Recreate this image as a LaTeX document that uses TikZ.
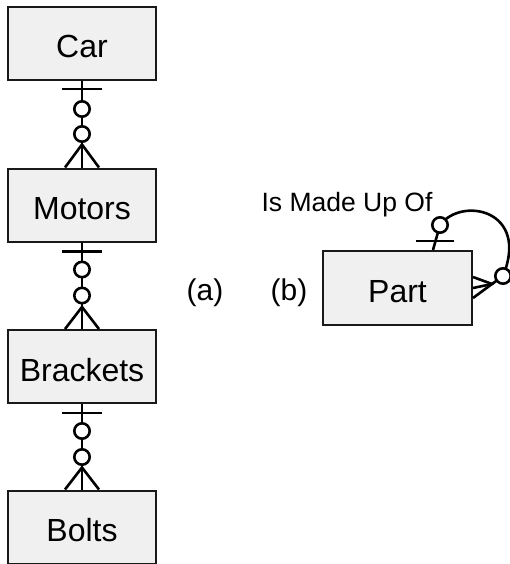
\documentclass[tikz,border=0pt]{standalone}
\usepackage{fontspec}
\setmainfont{Liberation Sans}
\begin{document}
\begin{tikzpicture}[x=1pt,y=-1pt]
\tikzstyle{every node}+=[inner sep=0pt]
\tikzstyle{entity}=[draw=black!90,fill=black!6,line width=2pt,minimum width=148pt,minimum height=73pt,text height=29pt,text depth=0pt,font=\fontsize{32}{36}\selectfont]
\tikzstyle{link}=[black,line width=2.6pt]
\tikzstyle{ring}=[black,line width=2.6pt,fill=white]
\useasboundingbox (0,0) rectangle (510,564);
% (a) chain of entities
\node [entity] (car) at (82,43.5) {Car};
\node [entity] (motors) at (82,205) {Motors};
\node [entity] (brackets) at (82,366.5) {Brackets};
\node [entity] (bolts) at (82,527) {Bolts};
% car -> motors
\draw [link] (car.south) -- (motors.north);
\draw [link] ([xshift=-20pt,yshift=-8pt]car.south) -- ([xshift=20pt,yshift=-8pt]car.south);
\draw [ring] ([yshift=-28pt]car.south) circle (7.7);
\draw [ring] ([yshift=-53pt]car.south) circle (7.7);
\draw [link] ([xshift=-17pt]motors.north) -- ([yshift=23pt]motors.north) -- ([xshift=17pt]motors.north);
% motors -> brackets
\draw [link] (motors.south) -- (brackets.north);
\draw [link] ([xshift=-20pt,yshift=-9pt]motors.south) -- ([xshift=20pt,yshift=-9pt]motors.south);
\draw [ring] ([yshift=-27pt]motors.south) circle (7.7);
\draw [ring] ([yshift=-53pt]motors.south) circle (7.7);
\draw [link] ([xshift=-17pt]brackets.north) -- ([yshift=22pt]brackets.north) -- ([xshift=17pt]brackets.north);
% brackets -> bolts
\draw [link] (brackets.south) -- (bolts.north);
\draw [link] ([xshift=-20pt,yshift=-9pt]brackets.south) -- ([xshift=20pt,yshift=-9pt]brackets.south);
\draw [ring] ([yshift=-27pt]brackets.south) circle (7.7);
\draw [ring] ([yshift=-53pt]brackets.south) circle (7.7);
\draw [link] ([xshift=-17pt]bolts.north) -- ([yshift=22pt]bolts.north) -- ([xshift=17pt]bolts.north);
% captions
\node [font=\fontsize{30}{34}\selectfont] (capa) at (205,293) {(a)};
\node [font=\fontsize{30}{34}\selectfont] (capb) at (289,293) {(b)};
% (b) recursive part
\node [entity,minimum width=149pt,minimum height=74pt] (part) at (397.5,288) {Part};
\node [font=\fontsize{26.5}{30}\selectfont] (madeof) at (347,205) {Is Made Up Of};
\coordinate (topfoot) at ([xshift=-40pt]part.north east);
\coordinate (topring) at ([xshift=-33pt,yshift=25pt]part.north east);
\coordinate (sidering) at ([xshift=30pt,yshift=12pt]part.east);
\coordinate (sideapex) at ([xshift=19pt,yshift=4pt]part.east);
\draw [link] (topring) .. controls (462,196) and (530,210) .. (sidering);
\draw [link] (topfoot) -- (topring);
\draw [link] ([xshift=-57pt,yshift=9pt]part.north east) -- ([xshift=-19pt,yshift=9pt]part.north east);
\draw [link] (sideapex) -- (sidering);
\draw [link] ([yshift=11pt]part.east) -- (sideapex) -- ([yshift=-10pt]part.east);
\draw [link] (part.east) -- (sideapex);
\draw [ring] (topring) circle (7.7);
\draw [ring] (sidering) circle (7.7);
\end{tikzpicture}
\end{document}
